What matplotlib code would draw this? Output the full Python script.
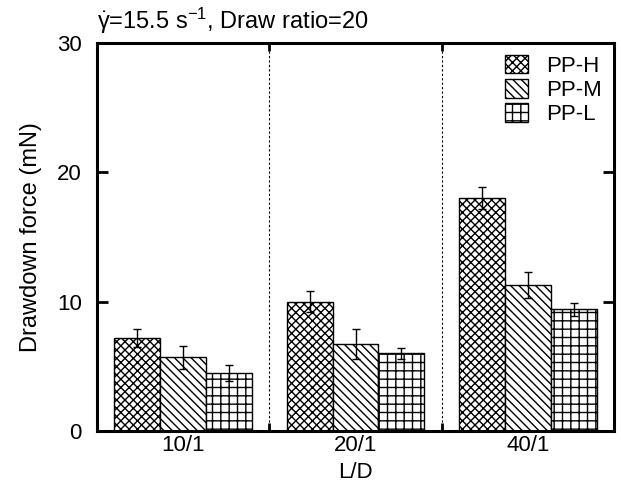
import matplotlib
matplotlib.use("Agg")
import matplotlib.pyplot as plt
import numpy as np

plt.rcParams['font.family'] = ['Liberation Sans', 'DejaVu Sans']
plt.rcParams['mathtext.fontset'] = 'custom'
plt.rcParams['mathtext.rm'] = 'Liberation Sans'
plt.rcParams['mathtext.it'] = 'Liberation Sans'
plt.rcParams['hatch.linewidth'] = 1.0

categories = ['10/1', '20/1', '40/1']
series = ['PP-H', 'PP-M', 'PP-L']
values = {
    'PP-H': [7.2, 10.0, 18.0],
    'PP-M': [5.7, 6.7, 11.3],
    'PP-L': [4.5, 6.0, 9.4],
}
errors = {
    'PP-H': [0.67, 0.83, 0.87],
    'PP-M': [0.9, 1.16, 1.03],
    'PP-L': [0.6, 0.4, 0.5],
}
hatches = {'PP-H': 'xxxx', 'PP-M': '\\\\\\\\', 'PP-L': '++'}
yticks = [0, 10, 20, 30]

FS = 16
L, R, B, T = 97, 614, 431, 43
fig = plt.figure(figsize=(6.21, 4.95), dpi=100)
ax = fig.add_axes([L/621, 1 - B/495, (R-L)/621, (B-T)/495])

x = np.arange(len(categories))
w = 0.8 / 3
for i, s in enumerate(series):
    ax.bar(x - 0.4 + w*(i+0.5), values[s], width=w, facecolor='white',
           edgecolor='black', linewidth=1.0, hatch=hatches[s], label=s,
           yerr=errors[s], error_kw=dict(ecolor='black', elinewidth=1.0,
                                          capsize=3, capthick=1.0))

for sep in [0.5, 1.5]:
    ax.axvline(sep, color='black', linestyle=(0, (2, 2)), linewidth=0.8)

ax.set_xlim(-0.5, 2.5)
ax.set_ylim(0, 30)
ax.set_yticks(yticks)
ax.set_xticks(x)
ax.set_xticklabels(categories)
ax.set_xticks([0.5, 1.5], minor=True)
ax.tick_params(axis='x', which='major', length=0, labelsize=FS, pad=3)
ax.tick_params(axis='x', which='minor', direction='in', length=6, width=2,
               top=True, bottom=True)
ax.tick_params(axis='y', which='major', direction='in', length=8, width=2,
               left=True, right=True, labelsize=FS, pad=11)
for sp in ax.spines.values():
    sp.set_linewidth(2.2)

ax.set_xlabel('L/D', fontsize=FS, labelpad=4)
ax.set_ylabel('Drawdown force (mN)', fontsize=17, labelpad=11)

ax.annotate(r'$\dot{\gamma}$=15.5 s$^{-1}$, Draw ratio=20', xy=(0, 1),
            xycoords='axes fraction', xytext=(0, 10), textcoords='offset points',
            ha='left', va='baseline', fontsize=17)

leg = ax.legend(loc='upper left', bbox_to_anchor=((505-L)/(R-L), (B-55)/(B-T)),
                frameon=False, fontsize=FS, borderpad=0, borderaxespad=0,
                handlelength=1.03, handleheight=0.9, handletextpad=0.8,
                labelspacing=0.1)

fig.savefig('out.png', dpi=100)
